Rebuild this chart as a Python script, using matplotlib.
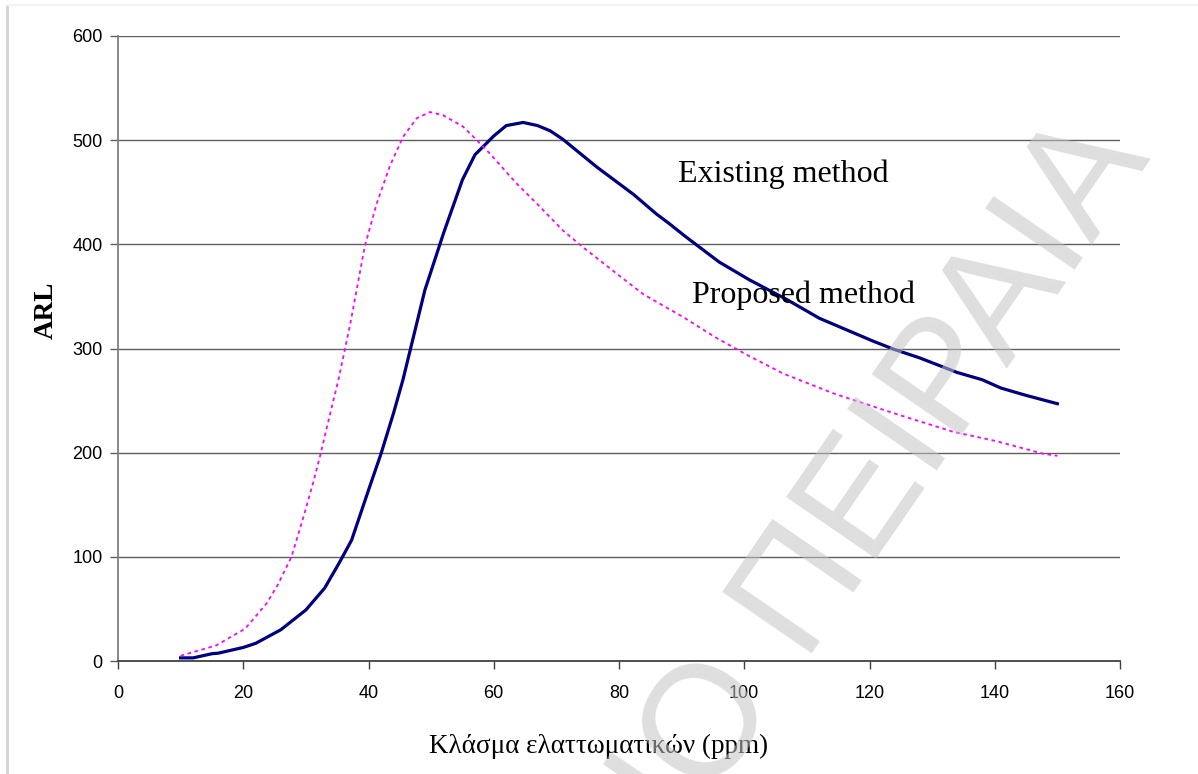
import matplotlib
matplotlib.use("Agg")
import matplotlib.pyplot as plt
from matplotlib.lines import Line2D

# ---- data ----
x_existing = [10, 12, 15, 16, 20, 22, 26, 30, 33, 35.4, 37.3, 40, 42, 44, 45.5,
              49, 52, 55, 57, 60, 62, 64.7, 67, 69, 71, 76.5, 82.3, 86, 88, 90.5,
              96, 100.8, 106.8, 112, 120.6, 124, 128, 134, 138, 141, 145, 150]
y_existing = [3, 3, 7, 7.5, 13, 17, 30, 49, 70, 95, 116, 164, 199, 238, 270,
              356, 411, 462, 486, 504, 514, 517, 514, 509, 501, 474, 448, 429, 420, 408,
              383, 366, 347, 329, 307, 299, 291, 277, 270, 262, 255, 247]

x_proposed = [10, 15.7, 20.3, 23.7, 25.5, 27.7, 29.6, 31.2, 32.4, 33.3, 35.2, 37, 38.1,
              39.4, 41.3, 43.4, 45.5, 47.7, 49.8, 51.9, 55.1, 57.3, 59.4, 63.7, 66.9,
              71.1, 74.3, 79.6, 83.9, 90.3, 95.6, 100.4, 106.2, 114.2, 123.8, 133.4,
              140.3, 147.7, 150]
y_proposed = [5, 15, 31, 55, 73, 100, 138, 172, 200, 223, 270, 321, 356,
              398, 439, 475, 503, 521, 527, 524, 513, 500, 487, 458, 439,
              413, 397, 372, 352, 330, 310, 294, 276, 257, 238, 220,
              211, 199, 197]

x_ticks = [0, 20, 40, 60, 80, 100, 120, 140, 160]
y_ticks = [0, 100, 200, 300, 400, 500, 600]

label_existing = "Existing method"
label_proposed = "Proposed method"
x_label = "Κλάσμα ελαττωματικών (ppm)"
y_label = "ARL"
watermark = "ΠΑΝΕΠΙΣΤΗΜΙΟ ΠΕΙΡΑΙΑ"

# ---- figure ----
fig = plt.figure(figsize=(11.98, 7.74), dpi=100)
ax = fig.add_axes([118 / 1198, 1 - 661 / 774, (1120 - 118) / 1198, (661 - 36) / 774])

ax.set_xlim(0, 160)
ax.set_ylim(0, 600)
ax.set_xticks(x_ticks)
ax.set_yticks(y_ticks)

for yv in y_ticks[1:]:
    ax.axhline(yv, color="#5f5f5f", lw=1.0, zorder=1)

ax.plot(x_existing, y_existing, color="#000080", lw=2.3, zorder=3,
        solid_joinstyle="round")
ax.plot(x_proposed, y_proposed, color="#FF00FF", lw=1.3, zorder=3,
        linestyle=(0, (2.0, 2.0)))

for s in ["top", "right"]:
    ax.spines[s].set_visible(False)
ax.spines["left"].set_color("#808080")
ax.spines["left"].set_linewidth(1.3)
ax.spines["bottom"].set_color("#404040")
ax.spines["bottom"].set_linewidth(1.3)

ax.tick_params(axis="y", direction="out", length=6, width=1.0, color="#606060",
               labelsize=13, pad=5)
ax.tick_params(axis="x", direction="out", length=5.5, width=1.0, color="#404040",
               labelsize=13, pad=12)
for lab in ax.get_xticklabels() + ax.get_yticklabels():
    lab.set_fontfamily("Liberation Sans")

ax.text(89.4, 467, label_existing, fontsize=23, family="Liberation Serif",
        ha="left", va="center", zorder=4)
ax.text(91.6, 351, label_proposed, fontsize=23, family="Liberation Serif",
        ha="left", va="center", zorder=4)

fig.text(599 / 1198, 1 - 746 / 774, x_label, fontsize=19.5, family="Liberation Serif",
         ha="center", va="center")
fig.text(46 / 1198, 1 - 310 / 774, y_label, fontsize=19.5, family="Liberation Serif",
         fontweight="bold", rotation=90, ha="center", va="center")

# page border
fig.add_artist(Line2D([7 / 1198, 7 / 1198], [0, 1 - 5 / 774], transform=fig.transFigure,
                      color="#d4d4d4", lw=2))
fig.add_artist(Line2D([7 / 1198, 1], [1 - 5 / 774, 1 - 5 / 774], transform=fig.transFigure,
                      color="#f2f2f2", lw=1.5))

# watermark
fig.text(1152 / 1198, 1 - 158 / 774, watermark, fontsize=114, family="Liberation Sans",
         color="#c4c4c4", alpha=0.55, rotation=55.5, rotation_mode="anchor",
         ha="right", va="baseline", zorder=10)

fig.savefig("out.png", dpi=100)
